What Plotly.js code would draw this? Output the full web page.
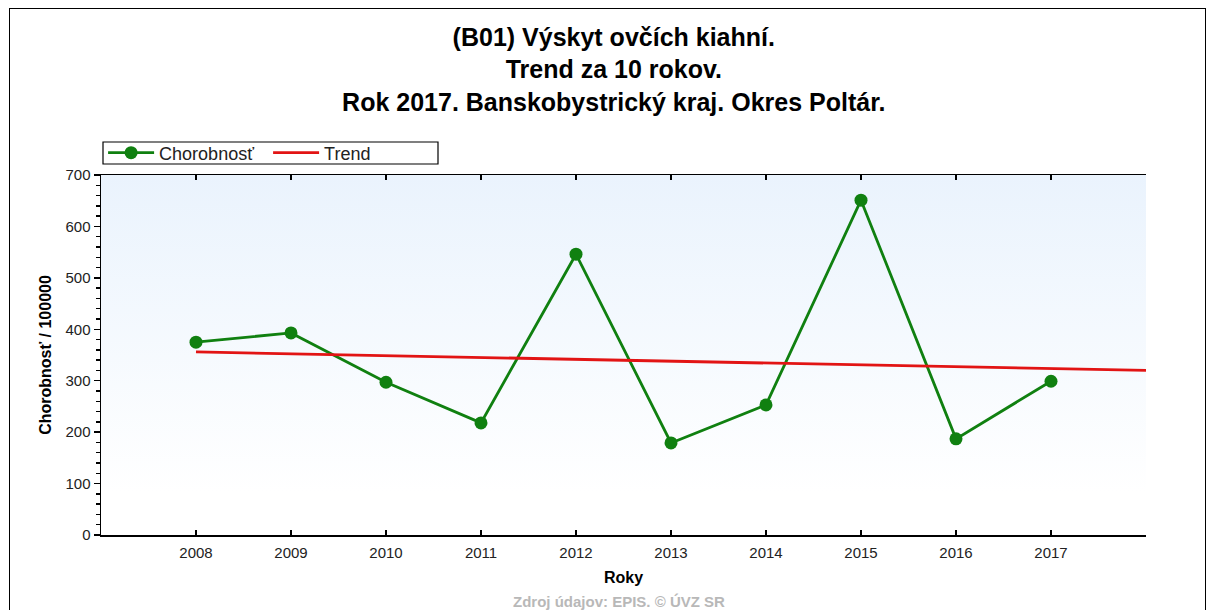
<!DOCTYPE html>
<html>
<head>
<meta charset="utf-8">
<script src="https://cdn.plot.ly/plotly-3.0.1.min.js"></script>
<style>
html,body{margin:0;padding:0;background:#fff;overflow:hidden;}
#chart{width:1213px;height:610px;}
#frame{position:absolute;left:9px;top:8px;width:1195px;height:640px;border:1px solid #000;pointer-events:none;}
</style>
</head>
<body>
<div id="chart"></div>
<div id="frame"></div>
<script>
// Data
const years = [2008, 2009, 2010, 2011, 2012, 2013, 2014, 2015, 2016, 2017];
const morbidity = [375, 393, 297, 218, 546, 179, 253, 651, 187, 299];
const trendYears = [2008, 2018];
const trendValues = [356, 320];
const yearTicks = ['2008','2009','2010','2011','2012','2013','2014','2015','2016','2017'];

const green = '#108010';
const red = '#e21414';
const FONT = 'Arial, "Liberation Sans", sans-serif';

const traces = [
  {
    x: years, y: morbidity, type: 'scatter', mode: 'lines+markers',
    name: 'Chorobnosť',
    line: {color: green, width: 2.8},
    marker: {color: green, size: 13, symbol: 'circle'}
  },
  {
    x: trendYears, y: trendValues, type: 'scatter', mode: 'lines',
    name: 'Trend',
    line: {color: red, width: 2.8}
  }
];

const bgSvg = '<svg xmlns="http://www.w3.org/2000/svg" width="10" height="100" preserveAspectRatio="none"><defs><linearGradient id="g" x1="0" y1="0" x2="0" y2="1"><stop offset="0" stop-color="#eaf3fd"/><stop offset="0.88" stop-color="#ffffff"/><stop offset="1" stop-color="#ffffff"/></linearGradient></defs><rect width="10" height="100" fill="url(#g)"/></svg>';
const bgUri = 'data:image/svg+xml;base64,' + btoa(bgSvg);

const tickFont = {family: FONT, size: 15, color: '#222'};
const yRange = [0, 700];

// plot area: x 101..1146, y 175..535 (360 px tall)
const py = (Y) => (535 - Y) / 360;
const px = (X) => (X - 101) / 1045;

const layout = {
  width: 1213, height: 610,
  margin: {l: 101, r: 67, t: 175, b: 75},
  paper_bgcolor: 'rgba(0,0,0,0)',
  plot_bgcolor: 'rgba(0,0,0,0)',
  title: {
    text: '<b>(B01) Výskyt ovčích kiahní.<br>Trend za 10 rokov.<br>Rok 2017. Banskobystrický kraj. Okres Poltár.</b>',
    font: {family: FONT, size: 25, color: '#000'},
    x: 0.506, xref: 'container', xanchor: 'center',
    y: 0.925, yref: 'container', yanchor: 'top'
  },
  showlegend: true,
  legend: {
    orientation: 'h',
    x: 0.002, xanchor: 'left', y: py(153), yanchor: 'middle',
    bgcolor: 'rgba(0,0,0,0)', borderwidth: 0,
    font: {family: FONT, size: 18, color: '#222'},
    itemwidth: 46,
    entrywidth: 104, entrywidthmode: 'pixels',
    tracegroupgap: 0
  },
  shapes: [{
    type: 'rect', xref: 'paper', yref: 'paper',
    x0: px(103), x1: px(438), y0: py(164), y1: py(142),
    line: {color: '#000', width: 1.2}, fillcolor: '#ffffff', layer: 'above'
  }],
  xaxis: {
    range: [2007, 2018], tickvals: years, ticktext: yearTicks,
    ticks: 'inside', ticklen: 5, tickwidth: 1.5, tickcolor: '#000',
    showline: true, linecolor: '#000', linewidth: 1.5, mirror: 'ticks',
    showgrid: false, zeroline: false,
    tickfont: tickFont, ticklabelstandoff: 3,
    title: {text: '<b>Roky</b>', font: {family: FONT, size: 16, color: '#000'}, standoff: 12}
  },
  xaxis2: {
    range: [2007, 2018], overlaying: 'x', side: 'bottom', anchor: 'y',
    tickvals: years, ticks: 'outside', ticklen: 4, tickwidth: 1.5, tickcolor: '#000',
    showticklabels: false, showline: false, showgrid: false, zeroline: false
  },
  yaxis: {
    range: yRange, dtick: 100, tick0: 0,
    ticks: 'outside', ticklen: 6, tickwidth: 1.5, tickcolor: '#000',
    minor: {dtick: 20, ticks: 'outside', ticklen: 4, tickwidth: 1.5, tickcolor: '#000', showgrid: false},
    showline: true, linecolor: '#000', linewidth: 1.5,
    showgrid: false, zeroline: false,
    tickfont: tickFont,
    title: {text: '<b>Chorobnosť / 100000</b>', font: {family: FONT, size: 16, color: '#000'}, standoff: 10}
  },
  yaxis2: {
    range: yRange, dtick: 100, tick0: 0, overlaying: 'y', side: 'left', anchor: 'x',
    ticks: 'inside', ticklen: 6, tickwidth: 1.5, tickcolor: '#000',
    minor: {dtick: 20, ticks: 'inside', ticklen: 4, tickwidth: 1.5, tickcolor: '#000', showgrid: false},
    showticklabels: false, showline: false, showgrid: false, zeroline: false
  },
  yaxis3: {
    range: yRange, dtick: 100, tick0: 0, overlaying: 'y', side: 'right', anchor: 'x',
    ticks: 'outside', ticklen: 6, tickwidth: 1.5, tickcolor: '#000',
    minor: {dtick: 20, ticks: 'outside', ticklen: 4, tickwidth: 1.5, tickcolor: '#000', showgrid: false},
    showline: true, linecolor: '#000', linewidth: 1.5,
    showgrid: false, zeroline: false, tickfont: tickFont
  },
  yaxis4: {
    range: yRange, dtick: 100, tick0: 0, overlaying: 'y', side: 'right', anchor: 'x',
    ticks: 'inside', ticklen: 6, tickwidth: 1.5, tickcolor: '#000',
    minor: {dtick: 20, ticks: 'inside', ticklen: 4, tickwidth: 1.5, tickcolor: '#000', showgrid: false},
    showticklabels: false, showline: false, showgrid: false, zeroline: false
  },
  images: [{
    source: bgUri, xref: 'paper', yref: 'paper', x: 0, y: 1,
    sizex: 1, sizey: 1, xanchor: 'left', yanchor: 'top',
    sizing: 'stretch', layer: 'below'
  }],
  annotations: [{
    text: '<b>Zdroj údajov: EPIS. © ÚVZ SR</b>',
    xref: 'paper', yref: 'paper', x: px(619), y: py(591), xanchor: 'center', yanchor: 'top',
    showarrow: false,
    font: {family: FONT, size: 15, color: '#b8b8b8'}
  }]
};

Plotly.newPlot('chart', traces, layout, {displayModeBar: false, staticPlot: true});
</script>
</body>
</html>
